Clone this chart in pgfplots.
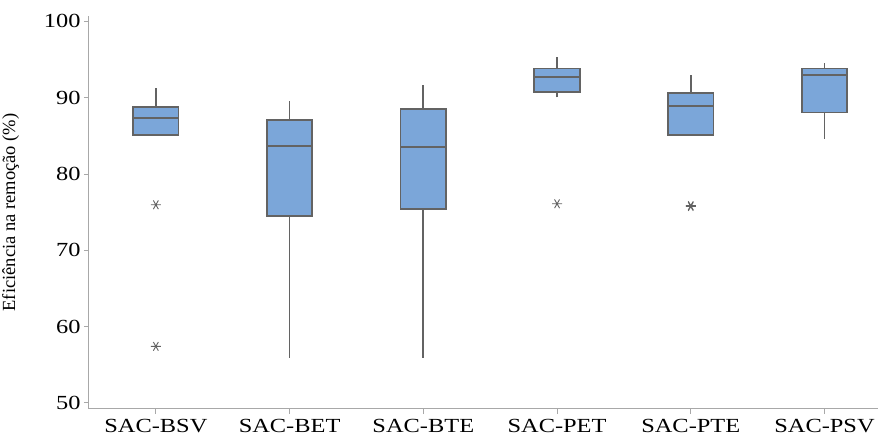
\documentclass[border=0pt]{standalone}
\usepackage{fontspec}
\setmainfont{Liberation Serif}[FakeStretch=1.22]
\newfontfamily\ylabfont{Liberation Serif}
\usepackage{pgfplots}
\pgfplotsset{compat=1.18}

\definecolor{boxfill}{HTML}{7BA6D9}
\definecolor{boxedge}{HTML}{636363}
\definecolor{axisgray}{HTML}{A8A8A8}
\definecolor{outgray}{HTML}{626262}

\pgfplotsset{
  whisker/.style={boxedge, line width=1.8pt, mark=none},
  box/.style={draw=boxedge, fill=boxfill, line width=1.7pt, mark=none},
  median/.style={boxedge, line width=1.7pt, mark=none},
}

\begin{document}
\begin{tikzpicture}
\useasboundingbox (-89pt,-27pt) rectangle (789pt,409pt);
\begin{axis}[
  at={(0pt,0pt)}, anchor=south west,
  scale only axis,
  width=789pt, height=393pt,
  xmin=0.5, xmax=6.4,
  ymin=49.2, ymax=100.7,
  axis lines*=left,
  axis line style={axisgray, line width=1pt, -},
  tick style={axisgray, line width=0.8pt},
  tick align=outside,
  major tick length=5pt,
  xtick={1,2,3,4,5,6},
  xticklabels={SAC-BSV,SAC-BET,SAC-BTE,SAC-PET,SAC-PTE,SAC-PSV},
  ytick={50,60,70,80,90,100},
  /pgf/number format/assume math mode=true,
  tick label style={font=\fontsize{20}{22}\selectfont, text=black},
  xticklabel style={yshift=-1.5pt},
  ylabel={Eficiência na remoção (\%)},
  ylabel style={font=\ylabfont\fontsize{18.5}{20}\selectfont,
    at={(axis description cs:-0.0995,0.5)}, anchor=center},
]
% SAC-BSV: q1 85.12, median 87.30, q3 88.82, upper whisker 91.23
\addplot[whisker] coordinates {(1,88.82) (1,91.23)};
\addplot[box] coordinates {(0.83,85.12) (1.17,85.12) (1.17,88.82) (0.83,88.82)} -- cycle;
\addplot[median] coordinates {(0.83,87.30) (1.17,87.30)};

% SAC-BET: whiskers 55.89 / 89.61, q1 74.52, median 83.68, q3 87.08
\addplot[whisker] coordinates {(2,55.89) (2,74.52)};
\addplot[whisker] coordinates {(2,87.08) (2,89.61)};
\addplot[box] coordinates {(1.83,74.52) (2.17,74.52) (2.17,87.08) (1.83,87.08)} -- cycle;
\addplot[median] coordinates {(1.83,83.68) (2.17,83.68)};

% SAC-BTE: whiskers 55.89 / 91.66, q1 75.43, median 83.51, q3 88.52
\addplot[whisker] coordinates {(3,55.89) (3,75.43)};
\addplot[whisker] coordinates {(3,88.52) (3,91.66)};
\addplot[box] coordinates {(2.83,75.43) (3.17,75.43) (3.17,88.52) (2.83,88.52)} -- cycle;
\addplot[median] coordinates {(2.83,83.51) (3.17,83.51)};

% SAC-PET: whiskers 90.05 / 95.29, q1 90.71, median 92.67, q3 93.80
\addplot[whisker] coordinates {(4,90.05) (4,90.71)};
\addplot[whisker] coordinates {(4,93.80) (4,95.29)};
\addplot[box] coordinates {(3.83,90.71) (4.17,90.71) (4.17,93.80) (3.83,93.80)} -- cycle;
\addplot[median] coordinates {(3.83,92.67) (4.17,92.67)};

% SAC-PTE: q1 85.12, median 88.87, q3 90.65, upper whisker 92.97
\addplot[whisker] coordinates {(5,90.65) (5,92.97)};
\addplot[box] coordinates {(4.83,85.12) (5.17,85.12) (5.17,90.65) (4.83,90.65)} -- cycle;
\addplot[median] coordinates {(4.83,88.87) (5.17,88.87)};

% SAC-PSV: whiskers 84.59 / 94.50, q1 88.04, median 93.01, q3 93.80
\addplot[whisker] coordinates {(6,84.59) (6,88.04)};
\addplot[whisker] coordinates {(6,93.80) (6,94.50)};
\addplot[box] coordinates {(5.83,88.04) (6.17,88.04) (6.17,93.80) (5.83,93.80)} -- cycle;
\addplot[median] coordinates {(5.83,93.01) (6.17,93.01)};

% outliers
\addplot[only marks, mark=asterisk, mark size=5pt, outgray,
  mark options={rotate=90, line width=0.9pt}]
  coordinates {(1,75.96) (1,57.41) (4,76.09) (5,75.73) (5,75.85)};
\end{axis}
\end{tikzpicture}
\end{document}
